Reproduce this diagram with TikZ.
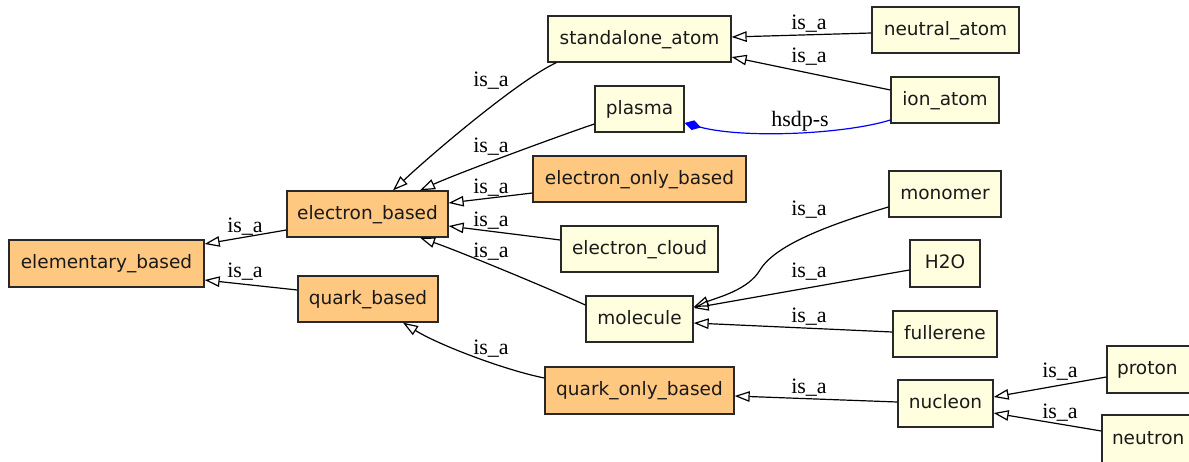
\documentclass[tikz,border=0pt]{standalone}
\usepackage{fontspec}
\setmainfont{DejaVu Sans}
\newfontfamily\lblfont{Liberation Serif}
\usetikzlibrary{arrows.meta,calc}
\definecolor{orangebox}{RGB}{255,200,128}
\definecolor{yellowbox}{RGB}{255,255,224}
\definecolor{boxline}{RGB}{40,40,40}

\begin{document}
\begin{tikzpicture}[x=1pt,y=-1pt,
  box/.style={draw=boxline, line width=1.3pt, inner sep=0pt, minimum height=46pt,
    text height=14pt, text depth=3.2pt,
    text=black!90, font=\fontsize{18.5}{22}\selectfont},
  obox/.style={box, fill=orangebox},
  ybox/.style={box, fill=yellowbox},
  isa/.style={draw, line width=1.2pt, -{Triangle[open, length=15pt, width=10.5pt]}},
  hsdp/.style={draw=blue, line width=1.2pt, {Diamond[length=17pt, width=10pt, fill=blue]}-},
  lbl/.style={font=\lblfont\fontsize{22}{26}\selectfont, inner sep=0pt, anchor=base},
]
\fill[white] (0,0) rectangle (1189,461);
\useasboundingbox (0,0) rectangle (1189,461);

% class boxes
\node[obox, minimum width=195pt, minimum height=47pt] (elem) at (106.5,263.5) {elementary\_based};
\node[obox, minimum width=161pt] (ebased) at (367.5,214) {electron\_based};
\node[obox, minimum width=140pt] (qbased) at (368,299) {quark\_based};
\node[ybox, minimum width=183pt] (standalone) at (639.5,39) {standalone\_atom};
\node[ybox, minimum width=147pt] (neutral) at (945.5,30) {neutral\_atom};
\node[ybox, minimum width=108pt] (ion) at (945,100) {ion\_atom};
\node[ybox, minimum width=89pt] (plasma) at (639.5,109) {plasma};
\node[obox, minimum width=213pt] (eonly) at (639.5,179) {electron\_only\_based};
\node[ybox, minimum width=157pt] (ecloud) at (639.5,249) {electron\_cloud};
\node[ybox, minimum width=112pt] (monomer) at (945,194) {monomer};
\node[ybox, minimum width=70pt, minimum height=47pt] (htwoo) at (945,263.5) {H2O};
\node[ybox, minimum width=104pt] (fullerene) at (945,334) {fullerene};
\node[ybox, minimum width=107pt] (molecule) at (639.5,319) {molecule};
\node[obox, minimum width=189pt, minimum height=47pt] (qonly) at (639.5,390.5) {quark\_only\_based};
\node[ybox, minimum width=95pt, minimum height=47pt] (nucleon) at (945.5,403.5) {nucleon};
\node[ybox, minimum width=90pt, minimum height=47pt, text width=70pt, align=left] (proton) at (1152,369.5) {proton};
\node[ybox, minimum width=100pt, minimum height=48pt, text width=80pt, align=left] (neutron) at (1152,439) {neutron};

% is_a relations
\draw[isa] ($(ebased.west)+(0,16)$) -- ($(elem.east)+(0,-19.5)$);
\draw[isa] ($(qbased.west)+(0,-9)$) -- ($(elem.east)+(0,16.5)$);
\draw[isa] ($(standalone.south west)+(9,0)$) .. controls +(-35,16) and +(45,-42) .. ($(ebased.north)+(25.5,0)$);
\draw[isa] ($(plasma.west)+(0,15)$) .. controls +(-30,10) and +(40,-18) .. ($(ebased.north)+(52.5,0)$);
\draw[isa] ($(eonly.west)+(0,14)$) -- ($(ebased.east)+(0,-11)$);
\draw[isa] ($(ecloud.west)+(0,-9)$) -- ($(ebased.east)+(0,12)$);
\draw[isa] ($(molecule.west)+(0,-14)$) .. controls +(-40,-18) and +(40,14) .. ($(ebased.south)+(52.5,0)$);
\draw[isa] ($(qonly.west)+(0,-12.5)$) .. controls +(-40,-8) and +(35,22) .. ($(qbased.south)+(35,0)$);
\draw[isa] ($(neutral.west)+(0,3)$) -- ($(standalone.east)+(0,-2)$);
\draw[isa] ($(ion.west)+(0,-10)$) -- ($(standalone.east)+(0,18)$);
\coordinate (mbend) at (760,270);
\draw[isa] ($(monomer.west)+(0,13)$) .. controls +(-60,18) and +(15,-25) .. (mbend)
  .. controls +(-12,20) and +(25,-10) .. ($(molecule.east)+(0,-12)$);
\draw[isa] ($(htwoo.west)+(0,6.5)$) -- ($(molecule.east)+(0,-11)$);
\draw[isa] ($(fullerene.west)+(0,-2)$) -- ($(molecule.east)+(0,4)$);
\draw[isa] ($(nucleon.west)+(0,-1.5)$) -- ($(qonly.east)+(0,5.5)$);
\draw[isa] ($(proton.west)+(0,7.5)$) -- ($(nucleon.east)+(0,-6.5)$);
\draw[isa] ($(neutron.west)+(0,-8)$) -- ($(nucleon.east)+(0,9.5)$);

% part-of relation
\draw[hsdp] ($(plasma.east)+(0,14)$) .. controls +(60,16) and +(-45,14) .. ($(ion.west)+(0,20)$);

% relation labels
\node[lbl] (l1) at (245,232) {is\_a};
\node[lbl] (l2) at (245,277) {is\_a};
\node[lbl] (l3) at (491,86) {is\_a};
\node[lbl] (l4) at (491,152) {is\_a};
\node[lbl] (l5) at (491,193) {is\_a};
\node[lbl] (l6) at (491,226) {is\_a};
\node[lbl] (l7) at (491,257) {is\_a};
\node[lbl] (l8) at (491,354) {is\_a};
\node[lbl] (l9) at (809,29) {is\_a};
\node[lbl] (l10) at (809,62) {is\_a};
\node[lbl] (l11) at (800,126) {hsdp-s};
\node[lbl] (l12) at (809,215) {is\_a};
\node[lbl] (l13) at (809,277) {is\_a};
\node[lbl] (l14) at (809,322) {is\_a};
\node[lbl] (l15) at (809,393) {is\_a};
\node[lbl] (l16) at (1060,377) {is\_a};
\node[lbl] (l17) at (1060,418) {is\_a};
\end{tikzpicture}
\end{document}
